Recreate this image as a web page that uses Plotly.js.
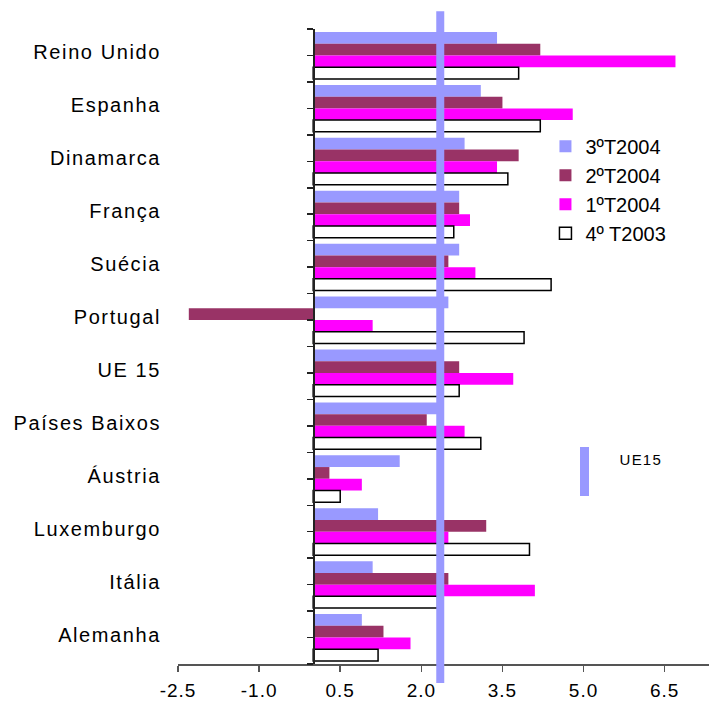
<!DOCTYPE html>
<html>
<head>
<meta charset="utf-8">
<script src="https://cdn.plot.ly/plotly-3.0.1.min.js"></script>
<style>
html,body{margin:0;padding:0;background:#fff;}
#chart{width:709px;height:701px;}
#chart .ytick text{letter-spacing:1.6px;}
#chart .xtick text{letter-spacing:1px;}
#chart .annotation-text{letter-spacing:1.2px;}
</style>
</head>
<body>
<div id="chart"></div>
<script>
// Categories (top to bottom)
const categories = ['Reino Unido','Espanha','Dinamarca','França','Suécia','Portugal','UE 15','Países Baixos','Áustria','Luxemburgo','Itália','Alemanha'];
// Series values
const t3_2004 = [3.4, 3.1, 2.8, 2.7, 2.7, 2.5, 2.35, 2.3, 1.6, 1.2, 1.1, 0.9];
const t2_2004 = [4.2, 3.5, 3.8, 2.7, 2.5, -2.3, 2.7, 2.1, 0.3, 3.2, 2.5, 1.3];
const t1_2004 = [6.7, 4.8, 3.4, 2.9, 3.0, 1.1, 3.7, 2.8, 0.9, 2.5, 4.1, 1.8];
const t4_2003 = [3.8, 4.2, 3.6, 2.6, 4.4, 3.9, 2.7, 3.1, 0.5, 4.0, 2.3, 1.2];
const seriesNames = ['3ºT2004', '2ºT2004', '1ºT2004', '4º T2003'];
// X-axis ticks (labels use a plain hyphen for negatives, as in the original)
const xTickValues = [-2.5, -1.0, 0.5, 2.0, 3.5, 5.0, 6.5];
const xTickLabels = ['-2.5', '-1.0', '0.5', '2.0', '3.5', '5.0', '6.5'];
const refLabel = 'UE15';
const refValue = t3_2004[categories.indexOf('UE 15')];

const xMin = -2.5, xMax = 7.32;
const FONT = 'Arial, "Liberation Sans", sans-serif';

function barTrace(name, vals, color, outline) {
  return {
    type: 'bar', orientation: 'h', name: name,
    y: categories, x: vals,
    marker: { color: color, line: { color: outline ? '#000' : color, width: outline ? 1.5 : 0 } },
    hoverinfo: 'x+y+name'
  };
}

const data = [
  barTrace(seriesNames[0], t3_2004, '#9999FF', false),
  barTrace(seriesNames[1], t2_2004, '#993366', false),
  barTrace(seriesNames[2], t1_2004, '#FF00FF', false),
  barTrace(seriesNames[3], t4_2003, '#FFFFFF', true)
];

const layout = {
  width: 709, height: 701,
  margin: { l: 178, r: 0, t: 29, b: 37, pad: 0, autoexpand: false },
  paper_bgcolor: '#fff', plot_bgcolor: 'rgba(0,0,0,0)',
  font: { family: FONT, size: 19, color: '#000' },
  barmode: 'group', bargap: 0.113, bargroupgap: 0,
  showlegend: true,
  legend: {
    xref: 'paper', yref: 'paper',
    x: 0.692, y: 0.846, xanchor: 'left', yanchor: 'top',
    font: { family: FONT, size: 20, color: '#000' },
    bgcolor: 'rgba(0,0,0,0)', borderwidth: 0,
    tracegroupgap: 0, itemclick: false
  },
  xaxis: {
    range: [xMin, xMax], tickmode: 'array', tickvals: xTickValues, ticktext: xTickLabels,
    showgrid: false, zeroline: false,
    showline: true, linecolor: '#555', linewidth: 1.5,
    ticks: 'outside', ticklen: 6, tickcolor: '#555', tickwidth: 1.5,
    ticklabelstandoff: 3,
    tickfont: { family: FONT, size: 19, color: '#000' }
  },
  yaxis: {
    type: 'category', categoryorder: 'array', categoryarray: categories,
    range: [categories.length - 0.5, -0.5],
    showgrid: false, zeroline: false, showline: false, ticks: '',
    ticklabelstandoff: 16, ticklabelshift: 3,
    tickfont: { family: FONT, size: 20, color: '#000' }
  },
  yaxis2: {
    overlaying: 'y', anchor: 'free', side: 'left',
    position: (0 - xMin) / (xMax - xMin),
    range: [categories.length - 0.5, -0.5],
    tick0: -0.5, dtick: 0.5,
    showgrid: false, zeroline: false, showticklabels: false,
    showline: true, linecolor: '#222', linewidth: 1.5,
    ticks: 'outside', ticklen: 6, tickcolor: '#222', tickwidth: 1.5
  },
  shapes: [
    { type: 'line', xref: 'x', yref: 'paper', x0: refValue, x1: refValue, y0: -0.03, y1: 1.028,
      line: { color: '#9999FF', width: 8 }, layer: 'above' },
    { type: 'rect', xref: 'paper', yref: 'paper', x0: (580 - 178) / 531, x1: (589 - 178) / 531,
      y0: (664 - 496) / 635, y1: (664 - 447) / 635,
      fillcolor: '#9999FF', line: { width: 0 } }
  ],
  annotations: [
    { xref: 'paper', yref: 'paper', x: (620 - 178) / 531, y: (664 - 460) / 635,
      xanchor: 'left', yanchor: 'middle', showarrow: false, text: refLabel,
      font: { family: FONT, size: 15, color: '#000' } }
  ]
};

// helper (empty) trace so the secondary axis carrying the category ticks is drawn
data.push({ type: 'scatter', x: [], y: [], yaxis: 'y2', showlegend: false, hoverinfo: 'skip' });

Plotly.newPlot('chart', data, layout, { displayModeBar: false, staticPlot: true });
</script>
</body>
</html>
